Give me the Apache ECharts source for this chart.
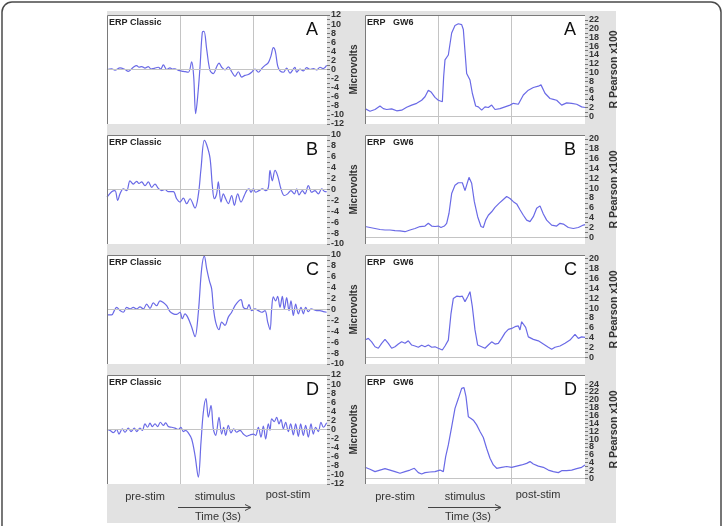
<!DOCTYPE html>
<html>
<head>
<meta charset="utf-8">
<script src="https://cdn.jsdelivr.net/npm/echarts@6/dist/echarts.min.js"></script>
<style>html,body{margin:0;padding:0;background:#fff}#chart{width:723px;height:526px}</style>
</head>
<body>
<div id="chart"></div>
<script>
// x = sample index (660 samples = 3 s), y = value
// left column: ERP Classic, microvolts
const leftA = [[0,0],[14,0.15],[24,-0.15],[39,0.35],[54,0],[64,-0.4],[79,0.5],[89,0.85],[96,0.5],[104,0.65],[114,0.3],[124,0.65],[132,0.1],[139,0.2],[154,0.5],[161,0.1],[169,1.0],[179,0],[189,0.35],[196,0.1],[204,0.15],[214,-0.2],[229,-0.4],[244,-0.6],[254,1.7],[260,-1.5],[266,-9.7],[272,-6.0],[279,0.5],[286,8.2],[291,8.4],[299,4.5],[309,-0.2],[319,-0.9],[329,0.6],[336,1.4],[344,0.5],[354,-0.1],[364,0.6],[374,-0.5],[384,-1.5],[394,-0.5],[404,-1.7],[414,-1.3],[424,-1.1],[434,-0.6],[444,0.1],[454,-0.6],[464,0.2],[474,0.9],[484,1.5],[492,3.0],[499,4.8],[505,4.0],[512,0.8],[519,-0.3],[529,-0.6],[539,0.3],[549,-0.8],[559,0.1],[564,0.5],[569,-0.6],[579,0.1],[589,-0.3],[599,0.4],[609,0],[619,0.2],[629,-0.1],[639,0.5],[649,0.2],[659,0.9]];
const leftB = [[0,-1.4],[14,-0.4],[24,-0.2],[32,-2.0],[39,-0.8],[49,0.1],[59,-0.2],[69,1.6],[79,1.0],[89,1.5],[96,1.1],[104,1.4],[114,0.7],[124,1.4],[134,0.4],[144,1.0],[154,0.2],[164,-0.2],[174,0],[184,-0.4],[199,-0.4],[209,-1.7],[219,-2.3],[229,-1.6],[239,-2.6],[249,-1.7],[264,-3.4],[274,-1.0],[282,3.8],[292,9.0],[299,8.2],[309,5.8],[316,0.7],[322,-1.7],[329,-0.8],[334,1.4],[342,-2.3],[349,-0.8],[356,-1.7],[364,-2.6],[374,-1.1],[382,-2.9],[392,-0.8],[402,-2.3],[412,-1.1],[419,-0.2],[426,0.1],[432,-0.5],[439,0.1],[446,-0.5],[456,-0.2],[466,0.1],[476,-0.2],[484,0.4],[489,3.5],[496,1.6],[504,3.5],[512,2.5],[522,0.1],[532,-1.1],[542,-0.8],[552,-0.2],[562,-0.8],[569,0.1],[576,-1.0],[586,-0.2],[594,-0.8],[604,0.7],[614,-0.5],[624,-0.2],[634,-0.8],[644,0.1],[654,-0.4],[659,-0.4]];
const leftC = [[0,-1.0],[14,-1.0],[22,-0.2],[29,0.4],[39,-0.2],[49,-0.5],[59,0.4],[69,0.1],[79,0.4],[89,0.1],[99,0.5],[109,0.1],[119,1.0],[129,0.2],[139,1.2],[149,0.7],[159,1.6],[169,1.3],[179,0.7],[189,-0.4],[199,-0.8],[209,-0.9],[219,-0.5],[226,-1.7],[234,-0.8],[242,-1.4],[254,-3.2],[264,-5.0],[274,-0.5],[284,7.5],[292,9.8],[299,7.5],[307,5.3],[314,3.8],[319,0.4],[326,-2.3],[336,-3.7],[344,-2.3],[354,-2.9],[364,-1.4],[374,-0.5],[384,0.7],[394,1.5],[402,1.8],[409,0.4],[419,0.1],[426,0.9],[434,-0.2],[444,0.1],[454,-0.2],[464,-0.5],[474,-0.2],[482,-2.3],[489,-3.7],[494,0.1],[499,2.3],[506,1.6],[512,2.4],[519,0.4],[526,2.4],[532,0.1],[539,2.2],[546,-0.2],[552,1.6],[559,-1.1],[566,1.0],[574,-0.8],[582,0.4],[589,-0.8],[596,0.4],[604,-0.4],[612,0.1],[619,0],[629,-0.2],[639,-0.2],[649,-0.4],[659,-0.5]];
const leftD = [[0,0],[9,-0.2],[19,-0.7],[29,0],[36,-1.0],[46,0.15],[54,-0.6],[64,0.3],[72,-0.45],[82,0.3],[89,-0.45],[99,0.3],[106,-0.2],[114,1.25],[122,0.5],[129,1.4],[136,0.65],[144,1.25],[152,0.65],[160,1.6],[169,0.9],[176,1.45],[184,0.65],[194,0.5],[204,0.3],[214,0],[222,0.5],[229,-0.45],[236,-0.2],[244,-0.75],[254,-2.1],[264,-5.7],[274,-10.5],[282,-2.8],[289,3.8],[297,6.8],[304,2.7],[312,5.3],[319,0.15],[326,-1.3],[336,2.7],[344,-1.0],[350,0.5],[356,-1.3],[364,0.9],[372,-0.75],[380,0.15],[389,-0.6],[399,-0.2],[409,-1.0],[419,-1.5],[429,-1.2],[439,-1.0],[446,-1.3],[454,0.5],[462,-1.7],[469,0.75],[476,-2.1],[484,1.25],[489,-0.2],[494,2.35],[502,1.75],[509,2.7],[516,1.25],[522,2.2],[529,0.15],[536,1.6],[544,-0.45],[551,1.25],[559,-1.2],[566,1.25],[574,-1.5],[581,1.25],[589,-1.3],[596,0.9],[604,-1.7],[612,1.25],[619,-1.0],[626,0.5],[634,-0.45],[642,1.6],[649,0.5],[659,1.5]];

// right column: ERP GW6, R Pearson x100
const rightA = [[0,1.8],[15,1.2],[30,1.6],[45,2.4],[55,1.8],[65,1.6],[80,1.75],[95,1.3],[110,1.45],[125,2.1],[140,2.6],[155,3.0],[170,3.7],[180,4.5],[190,6.0],[198,5.6],[210,4.35],[220,3.7],[232,3.35],[236,9.1],[240,12.9],[250,14.0],[260,19.0],[270,20.7],[280,21.1],[290,20.9],[295,19.8],[305,9.8],[315,8.3],[322,5.3],[332,2.4],[340,2.2],[350,1.45],[360,2.2],[370,2.05],[380,2.6],[390,1.6],[405,1.8],[420,2.2],[435,2.6],[445,3.0],[460,2.8],[465,3.0],[475,4.9],[490,6.0],[505,6.6],[520,6.9],[528,7.2],[540,5.3],[555,4.1],[565,3.9],[575,3.7],[590,2.6],[605,3.1],[620,3.0],[635,2.8],[650,2.2],[660,2.05]];
const rightB = [[0,2.2],[15,2.0],[30,1.8],[45,1.6],[60,1.5],[75,1.5],[90,1.35],[105,1.3],[120,1.15],[135,1.5],[150,1.8],[165,2.2],[180,2.3],[190,2.85],[200,2.3],[210,2.2],[220,2.3],[228,2.0],[238,2.3],[245,2.85],[252,4.9],[260,8.9],[270,10.6],[280,11.1],[292,11.1],[300,9.5],[305,10.6],[312,12.2],[320,11.0],[328,7.25],[338,4.2],[348,2.2],[355,2.0],[362,3.5],[370,4.5],[380,5.2],[390,6.1],[402,6.9],[415,7.7],[425,8.3],[435,7.9],[445,7.25],[455,6.8],[465,5.6],[475,4.5],[485,3.5],[495,3.2],[505,4.2],[515,5.9],[525,6.4],[535,4.75],[545,3.5],[560,2.5],[575,2.3],[585,2.85],[595,2.7],[610,2.0],[625,1.8],[640,2.0],[655,2.5],[660,2.6]];
const rightC = [[0,3.55],[10,3.9],[20,3.2],[30,2.2],[40,1.9],[50,2.9],[60,3.7],[70,2.9],[80,1.9],[90,2.2],[100,2.75],[110,3.2],[120,2.9],[130,3.4],[140,2.55],[150,2.35],[160,2.1],[170,2.5],[180,2.2],[190,2.55],[200,2.1],[210,2.2],[220,1.9],[232,1.55],[240,2.35],[250,3.55],[258,8.9],[265,11.95],[275,12.4],[285,12.3],[292,12.4],[300,11.3],[308,12.3],[315,13.3],[322,10.3],[330,5.6],[338,2.55],[350,2.2],[360,1.9],[370,2.55],[380,3.2],[390,2.75],[400,2.9],[410,3.9],[420,5.0],[430,5.7],[440,5.9],[450,6.25],[460,6.4],[465,5.6],[470,7.25],[475,7.45],[482,6.1],[490,4.2],[505,3.7],[520,3.4],[535,2.75],[550,2.1],[560,1.7],[570,2.1],[585,2.35],[600,2.9],[615,3.55],[630,4.7],[640,3.9],[650,4.2],[660,4.1]];
const rightD = [[0,2.8],[15,2.3],[30,1.7],[45,2.1],[60,2.45],[75,2.1],[90,1.7],[105,1.3],[120,1.7],[135,2.1],[148,2.55],[160,1.45],[170,1.1],[180,1.45],[195,1.6],[210,1.7],[225,2.1],[235,1.7],[242,5.5],[250,8.5],[260,13.1],[270,17.8],[280,20.3],[290,22.9],[297,23.1],[303,20.8],[310,15.7],[318,15.25],[325,14.8],[335,13.6],[345,11.9],[355,10.4],[365,7.6],[375,5.1],[385,3.4],[395,2.55],[410,2.8],[425,3.0],[440,2.8],[455,3.1],[470,3.4],[485,3.8],[495,4.25],[505,3.65],[520,3.1],[535,2.8],[550,2.1],[565,1.7],[580,1.45],[590,1.95],[605,1.95],[620,2.1],[635,2.45],[650,2.8],[660,3.4]];

const panelLetters = ['A', 'B', 'C', 'D'];
const leftLabels12 = [-12,-10,-8,-6,-4,-2,0,2,4,6,8,10,12];
const leftLabels10 = [-10,-8,-6,-4,-2,0,2,4,6,8,10];
const rightLabelsA = [0,2,4,6,8,10,12,14,16,18,20,22];
const rightLabels20 = [0,2,4,6,8,10,12,14,16,18,20];
const rightLabelsD = [0,2,4,6,8,10,12,14,16,18,20,22,24];
const leftRanges = [[-12,12],[-10,10],[-10,10],[-12,12]];
const rightRanges = [[-1.7,23.1],[-1.35,20.8],[-1.27,20.7],[-1.45,26.3]];

const leftSeries = [leftA, leftB, leftC, leftD];
const rightSeries = [rightA, rightB, rightC, rightD];
const leftLabels = [leftLabels12, leftLabels10, leftLabels10, leftLabels12];
const rightLabels = [rightLabelsA, rightLabels20, rightLabels20, rightLabelsD];

const FONT = 'Liberation Sans, Arial, sans-serif';
const LINE = '#6a6ae6';

var chart = echarts.init(document.getElementById('chart'));

function range(a, b) {
  var r = [];
  for (var i = Math.ceil(a); i <= Math.floor(b); i++) r.push(i);
  return r;
}

// echarts drops the neighbour of the first/last label when they touch;
// the labels here are packed tight, so keep the end labels away from
// their neighbours in the list order (positions are unchanged)
function spreadEnds(l) {
  var n = l.length;
  return [l[0], l[2], l[1], l[n - 2]].concat(l.slice(3, n - 2), [l[n - 1]]);
}

var grids = [], xAxes = [], yAxes = [], series = [], graphics = [];

// background frame + gray figure area
graphics.push({type: 'rect', z: -100, shape: {x: 2, y: 2, width: 719, height: 540, r: 10},
  style: {fill: '#fff', stroke: '#4a4a4a', lineWidth: 1.5}});
graphics.push({type: 'rect', z: -99, shape: {x: 107, y: 11, width: 509, height: 512},
  style: {fill: '#e2e2e2'}});

function addPanel(col, k) {
  var idx = grids.length;
  var left = col == 0 ? 107 : 365;
  var top = 15 + 120 * k;
  var rng = col == 0 ? leftRanges[k] : rightRanges[k];
  var labels = col == 0 ? leftLabels[k] : rightLabels[k];
  grids.push({left: left, top: top, width: 220, height: 109, show: true,
    backgroundColor: '#fff', borderWidth: 0});
  xAxes.push({gridIndex: idx, type: 'value', min: 0, max: 660, interval: 220,
    axisLine: {show: false}, axisTick: {show: false}, axisLabel: {show: false},
    splitLine: {show: true, showMinLine: false, showMaxLine: false,
      lineStyle: {color: '#c4c4c4', width: 1}}});
  yAxes.push({gridIndex: idx, type: 'value', position: 'right', min: rng[0], max: rng[1],
    axisLine: {show: false, onZero: false},
    axisTick: {show: true, length: 3, customValues: col == 0 ? range(rng[0], rng[1]) : range(0, labels[labels.length - 1]),
      lineStyle: {color: '#777', width: 1}},
    axisLabel: {customValues: spreadEnds(labels), margin: 4, hideOverlap: false,
      fontSize: 9, fontWeight: 'bold', color: '#333', fontFamily: FONT},
    splitLine: {show: false},
    name: col == 0 ? 'Microvolts' : 'R Pearson x100',
    nameLocation: 'middle', nameRotate: 90, nameGap: col == 0 ? 22 : 24,
    nameTextStyle: {fontSize: col == 0 ? 10 : 10.5, fontWeight: 'bold', color: '#333', fontFamily: FONT}});
  series.push({type: 'line', xAxisIndex: idx, yAxisIndex: idx,
    data: col == 0 ? leftSeries[k] : rightSeries[k],
    showSymbol: false, smooth: col == 0 ? 0.35 : false,
    lineStyle: {color: LINE, width: 1.2}, clip: true,
    markLine: {silent: true, symbol: ['none', 'none'], label: {show: false},
      lineStyle: {color: '#c4c4c4', type: 'solid', width: 1}, data: [{yAxis: 0}]},
    z: 3});

  // sunken border on the top and left edge
  graphics.push({type: 'polyline', z: 10, shape: {points: [[left + 0.5, top + 109], [left + 0.5, top + 0.5], [left + 220, top + 0.5]]},
    style: {stroke: '#7a7a7a', lineWidth: 1, fill: null}});
  graphics.push({type: 'text', z: 10, left: left + 2, top: top + 3,
    style: {text: col == 0 ? 'ERP Classic' : 'ERP   GW6', font: 'bold 9px ' + FONT, fill: '#222'}});
  graphics.push({type: 'text', z: 10, left: left + 199, top: top + 6,
    style: {text: panelLetters[k], font: '18px ' + FONT, fill: '#111'}});
}

for (var k = 0; k < 4; k++) {
  addPanel(0, k);
  addPanel(1, k);
}

// time axis captions under each column
function caption(x0) {
  var st = function (t, x, y) {
    return {type: 'text', z: 10, x: x, y: y,
      style: {text: t, font: '11px ' + FONT, fill: '#333', textAlign: 'center', textVerticalAlign: 'middle'}};
  };
  graphics.push(st('pre-stim', x0 + 38, 497));
  graphics.push(st('stimulus', x0 + 108, 497));
  graphics.push(st('post-stim', x0 + 181, 495));
  graphics.push(st('Time (3s)', x0 + 111, 517));
  graphics.push({type: 'line', z: 10, shape: {x1: x0 + 71, y1: 507.5, x2: x0 + 144, y2: 507.5},
    style: {stroke: '#444', lineWidth: 1}});
  graphics.push({type: 'polyline', z: 10, shape: {points: [[x0 + 138, 504.5], [x0 + 144, 507.5], [x0 + 138, 510.5]]},
    style: {stroke: '#444', lineWidth: 1, fill: null}});
}
caption(107);
caption(357);

chart.setOption({
  animation: false,
  backgroundColor: '#fff',
  grid: grids,
  xAxis: xAxes,
  yAxis: yAxes,
  series: series,
  graphic: graphics
});
</script>
</body>
</html>
